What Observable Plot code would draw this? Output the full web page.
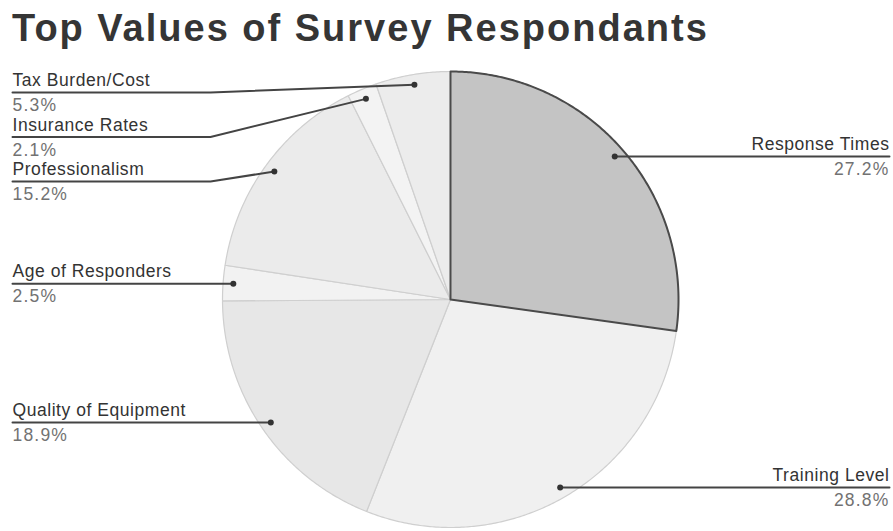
<!DOCTYPE html>
<html><head><meta charset="utf-8">
<script src="https://cdn.jsdelivr.net/npm/d3@7"></script>
<script src="https://cdn.jsdelivr.net/npm/@observablehq/plot@0.6"></script>
<style>
body{margin:0;background:#fff;}
#wrap{position:relative;width:893px;height:531px;overflow:hidden;}
#title{position:absolute;left:12px;top:9px;margin:0;font:bold 38px "Liberation Sans",Arial,sans-serif;letter-spacing:2px;line-height:1;color:#353535;white-space:nowrap;z-index:2;}
#chart{position:absolute;left:0;top:0;}
#chart svg g.name text{letter-spacing:0.55px;}
#chart svg g.pct text{letter-spacing:1.2px;}
</style></head><body>
<div id="wrap"><div id="title">Top Values of Survey Respondants</div><div id="chart"></div></div>
<script>
const categories = ["Response Times","Training Level","Quality of Equipment","Age of Responders","Professionalism","Insurance Rates","Tax Burden/Cost"];
const values = [27.2, 28.8, 18.9, 2.5, 15.2, 2.1, 5.3];
const percentLabels = ["27.2%","28.8%","18.9%","2.5%","15.2%","2.1%","5.3%"];
const sliceColors = ["#c4c4c4","#f0f0f0","#e7e7e7","#f2f2f2","#ebebeb","#f3f3f3","#ececec"];

// layout constants (pixels, relative to pie centre, y up)
const R = 228, dotR = 0.955 * R;
const leftX = -438, kinkX = -240, rightX = 439, labelGap = 44.5, topLimit = 207;

const total = d3.sum(values);
let acc = 0;
const slices = categories.map((c, i) => {
  const a0 = acc / total * 2 * Math.PI;
  acc += values[i];
  const a1 = acc / total * 2 * Math.PI;
  return {cat: c, i, a0, a1, mid: (a0 + a1) / 2};
});

const poly = [];
for (const s of slices) {
  poly.push({cat: s.cat, x: 0, y: 0});
  const n = Math.max(2, Math.ceil((s.a1 - s.a0) / (Math.PI / 360)));
  for (let k = 0; k <= n; k++) {
    const a = s.a0 + (s.a1 - s.a0) * k / n;
    poly.push({cat: s.cat, x: R * Math.sin(a), y: R * Math.cos(a)});
  }
}

const anchors = slices.map(s => ({cat: s.cat, i: s.i, x: dotR * Math.sin(s.mid), y: dotR * Math.cos(s.mid), left: s.mid > Math.PI}));
// label layout: left side stacked from top with minimum gap
const leftA = anchors.filter(a => a.left).sort((a, b) => b.y - a.y);
let prev = Infinity;
for (const a of leftA) { a.ly = Math.min(a.y, prev - labelGap, topLimit); prev = a.ly; }
for (const a of anchors) if (!a.left) a.ly = a.y;

const leaders = [];
for (const a of anchors) {
  if (a.left) {
    leaders.push({cat: a.cat, x: leftX, y: a.ly}, {cat: a.cat, x: kinkX, y: a.ly}, {cat: a.cat, x: a.x, y: a.y});
  } else {
    leaders.push({cat: a.cat, x: a.x, y: a.y}, {cat: a.cat, x: rightX, y: a.ly});
  }
}
const labels = anchors.map(a => ({cat: a.cat, pct: percentLabels[a.i], x: a.left ? leftX : rightX, y: a.ly, anchor: a.left ? "start" : "end"}));

const nameStyle = {fontSize: 17.5, fill: "#333", className: "name"};
const pctStyle = {fontSize: 17.5, fill: "#727272", className: "pct"};

const chart = Plot.plot({
  width: 893, height: 531,
  marginLeft: 222, marginRight: 215, marginTop: 71, marginBottom: 4,
  x: {domain: [-R, R], axis: null},
  y: {domain: [-R, R], axis: null},
  color: {domain: categories, range: sliceColors},
  style: {fontFamily: "'Liberation Sans', Arial, sans-serif", background: "transparent"},
  marks: [
    Plot.line(poly, {x: "x", y: "y", z: "cat", fill: "cat", stroke: "#cfcfcf", strokeWidth: 1.2, curve: "linear-closed"}),
    Plot.line(poly.filter(d => d.cat === categories[0]), {x: "x", y: "y", stroke: "#4a4a4a", strokeWidth: 2, curve: "linear-closed", strokeLinejoin: "round"}),
    Plot.line(leaders, {x: "x", y: "y", z: "cat", stroke: "#444", strokeWidth: 2}),
    Plot.dot(anchors, {x: "x", y: "y", r: 3, fill: "#333"}),
    Plot.text(labels.filter(d => d.anchor === "start"), {x: "x", y: "y", text: "cat", textAnchor: "start", dy: -12, ...nameStyle}),
    Plot.text(labels.filter(d => d.anchor === "end"), {x: "x", y: "y", text: "cat", textAnchor: "end", dy: -12, ...nameStyle}),
    Plot.text(labels.filter(d => d.anchor === "start"), {x: "x", y: "y", text: "pct", textAnchor: "start", dy: 13, ...pctStyle}),
    Plot.text(labels.filter(d => d.anchor === "end"), {x: "x", y: "y", text: "pct", textAnchor: "end", dy: 13, ...pctStyle})
  ]
});
document.getElementById("chart").appendChild(chart);
</script>
</body></html>
